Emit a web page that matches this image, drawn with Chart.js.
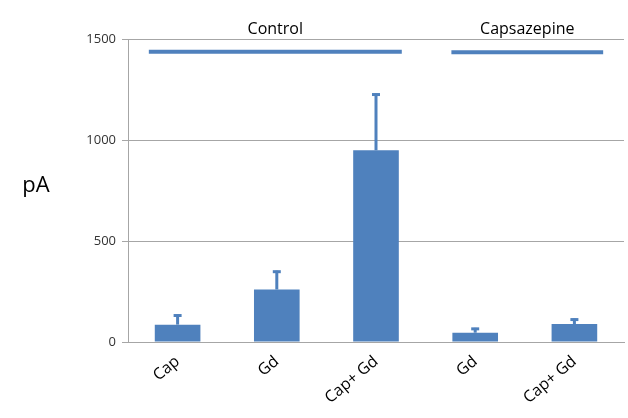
<!DOCTYPE html>
<html>
<head>
<meta charset="utf-8">
<script src="https://cdn.jsdelivr.net/npm/chart.js@4"></script>
<style>
  html, body { margin: 0; padding: 0; background: #fff; }
  #wrap { width: 628px; height: 418px; }
</style>
</head>
<body>
<div id="wrap"><canvas id="chart" width="628" height="418"></canvas></div>
<script>
// Chart data
const categories = ['Cap', 'Gd', 'Cap+ Gd', 'Gd', 'Cap+ Gd'];
const meanValues = [86, 260, 949, 46, 89];
const errorTops = [136, 353, 1230, 70, 116];
const yTicks = [0, 500, 1000, 1500];

// Group brackets: label, first/last category index covered, level
const groupLabels = ['Control', 'Capsazepine'];
const groupStart = [-0.29, 2.76];
const groupEnd = [2.26, 4.29];
const groupLevel = [1437, 1434];

const barColor = '#4F81BD';
const gridColor = '#A6A6A6';
const fontFamily = "'Open Sans', 'Liberation Sans', sans-serif";

// Error bars drawn from the data through the y scale
const errorBarPlugin = {
  id: 'errorBars',
  afterDatasetsDraw(chart) {
    const ctx = chart.ctx;
    const y = chart.scales.y;
    const meta = chart.getDatasetMeta(0);
    ctx.save();
    ctx.strokeStyle = barColor;
    ctx.lineWidth = 3;
    meta.data.forEach((bar, i) => {
      const yTop = y.getPixelForValue(errorTops[i]);
      const yBase = y.getPixelForValue(meanValues[i]);
      ctx.beginPath();
      ctx.moveTo(bar.x, yBase);
      ctx.lineTo(bar.x, yTop);
      ctx.stroke();
      ctx.beginPath();
      ctx.moveTo(bar.x - 4, yTop + 1);
      ctx.lineTo(bar.x + 4, yTop + 1);
      ctx.stroke();
    });
    ctx.restore();
  }
};

// Group lines + labels, and the y axis unit label
const groupPlugin = {
  id: 'groups',
  afterDraw(chart) {
    const ctx = chart.ctx;
    const x = chart.scales.x;
    const y = chart.scales.y;
    ctx.save();
    groupLabels.forEach((label, i) => {
      const x0 = x.getPixelForValue(groupStart[i]);
      const x1 = x.getPixelForValue(groupEnd[i]);
      const yy = y.getPixelForValue(groupLevel[i]);
      ctx.strokeStyle = barColor;
      ctx.lineWidth = 4;
      ctx.beginPath();
      ctx.moveTo(x0, yy);
      ctx.lineTo(x1, yy);
      ctx.stroke();
      ctx.fillStyle = '#000';
      ctx.font = '16px ' + fontFamily;
      ctx.textAlign = 'center';
      ctx.textBaseline = 'middle';
      ctx.fillText(label, (x0 + x1) / 2, 29);
    });
    ctx.font = '22px ' + fontFamily;
    ctx.textAlign = 'center';
    ctx.textBaseline = 'middle';
    ctx.fillStyle = '#000';
    ctx.fillText('pA', 36, 186);
    ctx.restore();
  }
};

new Chart(document.getElementById('chart'), {
  type: 'bar',
  data: {
    labels: categories,
    datasets: [{
      data: meanValues,
      backgroundColor: barColor,
      borderWidth: 0,
      barPercentage: 0.46,
      categoryPercentage: 1
    }]
  },
  options: {
    responsive: false,
    animation: false,
    devicePixelRatio: 1,
    layout: { padding: { top: 39, right: 4, left: 0, bottom: 0 } },
    plugins: {
      legend: { display: false },
      tooltip: { enabled: false }
    },
    scales: {
      x: {
        grid: { display: false },
        border: { display: true, color: gridColor, width: 1 },
        ticks: {
          minRotation: 40,
          maxRotation: 40,
          color: '#000',
          font: { family: fontFamily, size: 16 },
          padding: 2
        },
        afterFit(scale) { scale.height = 76; }
      },
      y: {
        min: 0,
        max: 1500,
        afterBuildTicks(scale) { scale.ticks = yTicks.map(v => ({ value: v })); },
        grid: { color: gridColor, tickLength: 6, drawTicks: true },
        border: { display: true, color: gridColor },
        ticks: {
          color: '#333',
          font: { family: fontFamily, size: 13 },
          padding: 6,
          callback: (v) => String(v)
        },
        afterFit(scale) { scale.width = 128; }
      }
    }
  },
  plugins: [errorBarPlugin, groupPlugin]
});
</script>
</body>
</html>
